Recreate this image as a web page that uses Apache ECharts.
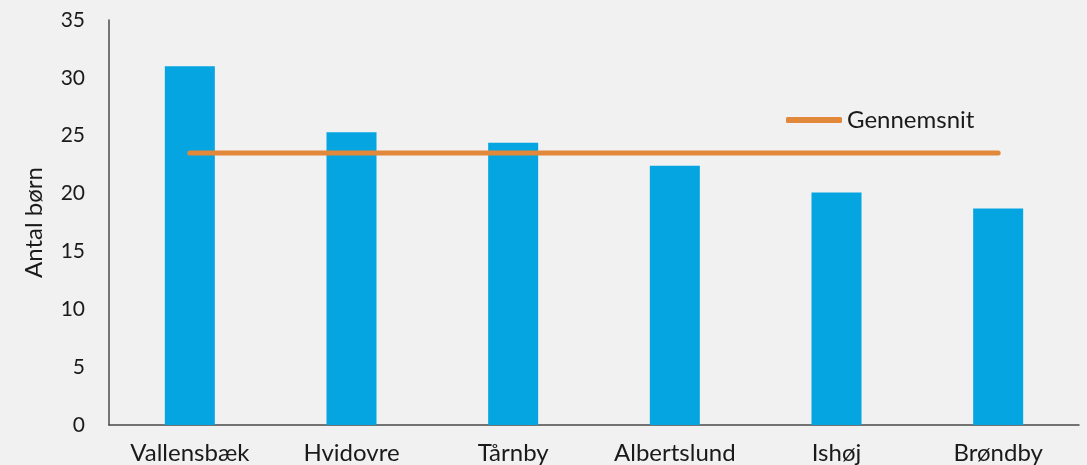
<!DOCTYPE html>
<html><head><meta charset="utf-8">
<script src="https://cdn.jsdelivr.net/npm/echarts@6/dist/echarts.min.js"></script>
<style>html,body{margin:0;padding:0;background:#f0f1f0}#c{width:1087px;height:465px}</style>
</head><body><div id="c"></div>
<script>
const categories = ['Vallensbæk','Hvidovre','Tårnby','Albertslund','Ishøj','Brøndby'];
const children = [31.0, 25.3, 24.4, 22.4, 20.1, 18.7];
const average = [23.5, 23.5, 23.5, 23.5, 23.5, 23.5];
const yTicks = {min: 0, max: 35, interval: 5};

const FONT = 'Lato';
const chart = echarts.init(document.getElementById('c'));
chart.setOption({
  backgroundColor: '#f0f1f0',
  animation: false,
  textStyle: {fontFamily: FONT},
  grid: {left: 109, right: 8, top: 20, bottom: 40, containLabel: false},
  legend: {
    data: [{name: 'Gennemsnit', icon: 'roundRect'}],
    left: 781, top: 103,
    itemWidth: 56, itemHeight: 6, itemGap: 4,
    textStyle: {fontSize: 24, color: '#1a1a1a', fontFamily: FONT, padding: [0,0,0,0]}
  },
  xAxis: {
    type: 'category', data: categories,
    axisLine: {lineStyle: {color: '#4a4a4a', width: 1.5}},
    axisTick: {show: false},
    axisLabel: {fontSize: 24, color: '#1a1a1a', margin: 16, fontFamily: FONT}
  },
  yAxis: {
    type: 'value', min: yTicks.min, max: yTicks.max, interval: yTicks.interval,
    name: 'Antal børn', nameLocation: 'middle', nameGap: 63, nameRotate: 90,
    nameTextStyle: {fontSize: 24, color: '#1a1a1a', fontFamily: FONT},
    axisLine: {show: true, lineStyle: {color: '#4a4a4a', width: 1.5}},
    axisTick: {show: false},
    splitLine: {show: false},
    axisLabel: {fontSize: 21, color: '#1a1a1a', margin: 24, fontFamily: FONT}
  },
  series: [
    {
      name: 'Antal børn', type: 'bar', data: children, barWidth: 50,
      itemStyle: {color: '#04a5e1'}
    },
    {
      name: 'Gennemsnit', type: 'line', data: average, symbol: 'none',
      lineStyle: {color: '#e2883a', width: 5, cap: 'round'},
      itemStyle: {color: '#e2883a'}
    }
  ]
});
</script></body></html>
